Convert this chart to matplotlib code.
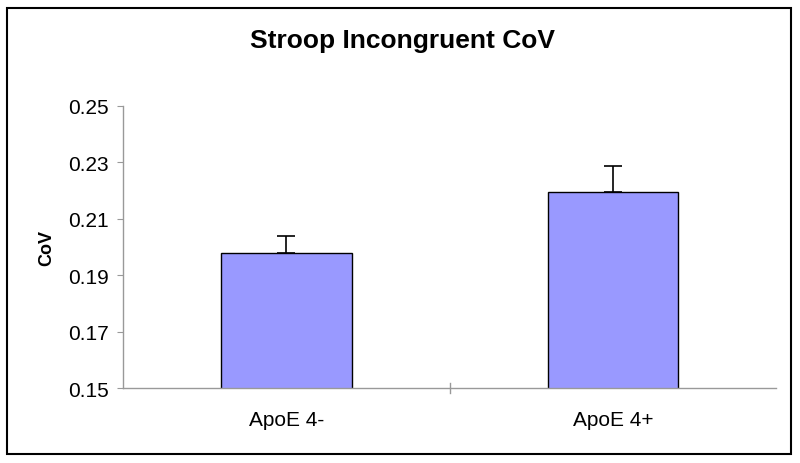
import matplotlib.pyplot as plt
from matplotlib.patches import Rectangle

plt.rcParams['font.family'] = ['Liberation Sans', 'DejaVu Sans']

categories = ["ApoE 4-", "ApoE 4+"]
means = [0.198, 0.2195]
sem = [0.006, 0.0093]

fig = plt.figure(figsize=(8, 4.64), dpi=100)
ax = fig.add_axes([0.154, 0.1616, 0.816, 0.6078])

x = range(len(categories))
ax.bar(x, means, width=0.4, color="#9999ff", edgecolor="black", linewidth=1,
       yerr=[[0] * len(sem), sem], capsize=6.5,
       error_kw={"elinewidth": 1.2, "capthick": 1.2, "ecolor": "black"})

ax.set_xlim(-0.5, 1.5)
ax.set_ylim(0.15, 0.25)
ax.set_yticks([0.15, 0.17, 0.19, 0.21, 0.23, 0.25])
ax.set_yticklabels(["0.15", "0.17", "0.19", "0.21", "0.23", "0.25"])
ax.set_xticks(list(x))
ax.set_xticklabels(categories)
ax.tick_params(axis="x", length=0, pad=15.5, labelsize=15)
ax.tick_params(axis="y", length=4.5, color="#999999", pad=6, labelsize=15)
# category boundary tick
ax.plot([0.5, 0.5], [0.15 - 0.0018, 0.15 + 0.0018], color="#999999", lw=1,
        clip_on=False)

for s in ["top", "right"]:
    ax.spines[s].set_visible(False)
for s in ["left", "bottom"]:
    ax.spines[s].set_color("#999999")
    ax.spines[s].set_linewidth(1)

ax.set_ylabel("CoV", fontsize=13, fontweight="bold", labelpad=9)
fig.text(0.503, 0.911, "Stroop Incongruent CoV", ha="center", va="center",
         fontsize=19, fontweight="bold")

fig.patches.append(Rectangle((0.009, 0.019), 0.98, 0.962, transform=fig.transFigure,
                             fill=False, edgecolor="black", linewidth=1.5))

fig.savefig("out.png", dpi=100)
